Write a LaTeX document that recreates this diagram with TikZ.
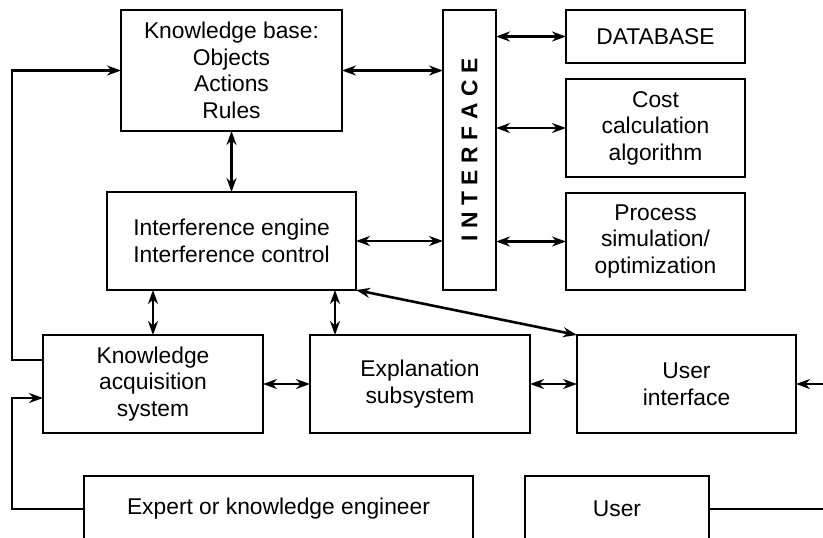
\documentclass[tikz,border=0pt]{standalone}
\usepackage{fontspec}
\usepackage{graphicx}
\setmainfont{Liberation Sans}
\usetikzlibrary{arrows.meta}

\tikzset{
  box/.style={draw, line width=0.65pt, inner sep=0pt, outer sep=0pt, align=center,
    font=\fontsize{11.4}{13.3}\selectfont},
  link/.style={line width=1.3pt},
  both/.style={link, {Stealth[length=7pt,width=5pt]}-{Stealth[length=7pt,width=5pt]}},
  into/.style={link, -{Stealth[length=7pt,width=5pt]}},
}

\begin{document}
\begin{tikzpicture}[x=0.5pt, y=-0.5pt]
    \fill[white] (0,0) rectangle (823,537);
    \useasboundingbox (0,0) rectangle (823,537);
    \clip (0,0) rectangle (823,537);

    % knowledge base and engine
    \node[box, minimum width=110.5pt, minimum height=60.5pt] (kb) at (231.5,70.5)
        {Knowledge base:\\Objects\\Actions\\Rules};
    \node[box, minimum width=124.5pt, minimum height=49pt] (ie) at (231.5,241)
        {Interference engine\\Interference control};

    % interface column
    \node[box, minimum width=26.5pt, minimum height=140pt] (iface) at (469.5,150)
        {\rotatebox{90}{\bfseries I\hspace{3.3pt}N\hspace{3.3pt}T\hspace{3.3pt}E\hspace{3.3pt}R\hspace{3.3pt}F\hspace{3.3pt}A\hspace{3.3pt}C\hspace{3.3pt}E}};

    % external modules
    \node[box, minimum width=89.5pt, minimum height=26.5pt] (db) at (655.5,36.5) {DATABASE};
    \node[box, minimum width=89.5pt, minimum height=49pt] (cost) at (655.5,128)
        {Cost\\calculation\\algorithm};
    \node[box, minimum width=89.5pt, minimum height=48.5pt] (proc) at (655.5,241.5)
        {Process\\simulation/\\optimization};

    % subsystems
    \node[box, minimum width=110pt, minimum height=49pt] (ka) at (153,384)
        {Knowledge\\acquisition\\system};
    \node[box, minimum width=110pt, minimum height=49pt] (expl) at (420,384)
        {Explanation\\subsystem};
    \node[box, minimum width=109.5pt, minimum height=49pt] (ui) at (686.5,384)
        {User\\interface};

    % people
    \node[box, minimum width=194.5pt, minimum height=33pt] (expert) at (278.5,509)
        {Expert or knowledge engineer};
    \node[box, minimum width=92pt, minimum height=33pt] (user) at (617,509) {User};

    % arrows
    \coordinate (exin) at ([xshift=12.5pt]expl.north west);
    \draw[both] (kb.east) -- (kb.east -| iface.west);
    \draw[both] (ie.east) -- (ie.east -| iface.west);
    \draw[both] (db.west -| iface.east) -- (db.west);
    \draw[both] (cost.west -| iface.east) -- (cost.west);
    \draw[both] (proc.west -| iface.east) -- (proc.west);
    \draw[both] (kb.south) -- (ie.north);
    \draw[both] (ie.south -| ka.north) -- (ka.north);
    \draw[both] (ie.south -| exin) -- (exin);
    \draw[both] (ie.south east) -- (ui.north west);
    \draw[both] (ka.east) -- (expl.west);
    \draw[both] (expl.east) -- (ui.west);

    % feedback lines
    \draw[into] ([yshift=12pt]ka.west) -- ++(-15.5pt,0) |- (kb.west);
    \draw[into] (expert.west) -- ++(-36pt,0) |- ([yshift=-7pt]ka.west);
    \draw[into] (user.east) -- ++(63pt,0) |- (ui.east);
\end{tikzpicture}
\end{document}
